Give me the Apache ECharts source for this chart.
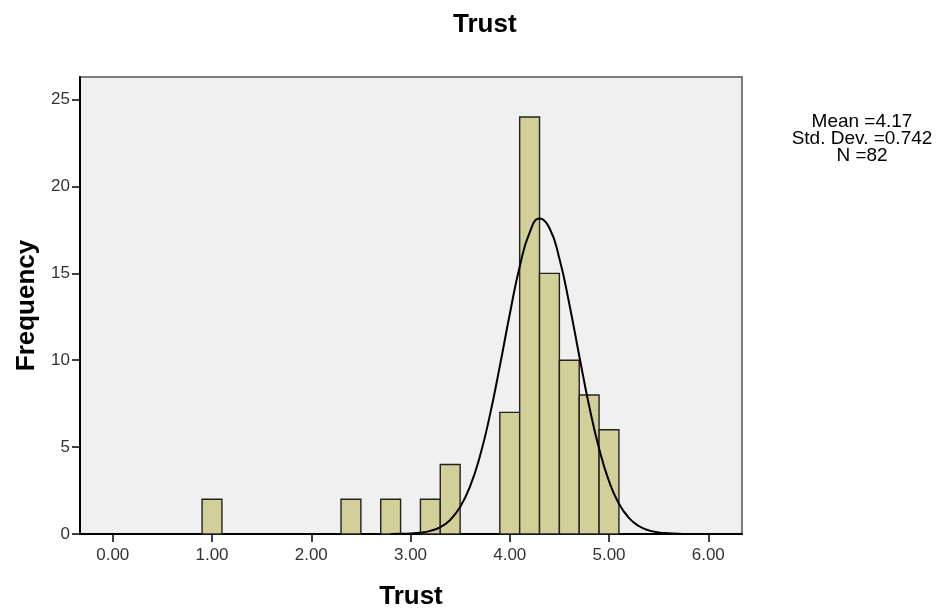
<!DOCTYPE html>
<html>
<head>
<meta charset="utf-8">
<script src="https://cdn.jsdelivr.net/npm/echarts@6/dist/echarts.min.js"></script>
<style>
  html, body { margin: 0; padding: 0; background: #fff; }
  #chart { width: 939px; height: 609px; }
</style>
</head>
<body>
<div id="chart"></div>
<script>
// histogram bins (left edge, width 0.2) and counts
const binLow = [0.9, 2.3, 2.7, 3.1, 3.3, 3.9, 4.1, 4.3, 4.5, 4.7, 4.9];
const binWidth = 0.2;
const counts = [2, 2, 2, 2, 4, 7, 24, 15, 10, 8, 6];

// normal curve
const curveX = [2.8, 2.9, 3.0, 3.1, 3.2, 3.3, 3.4, 3.5, 3.6, 3.7, 3.8, 3.9, 4.0, 4.1, 4.2, 4.3,
  4.4, 4.5, 4.6, 4.7, 4.8, 4.9, 5.0, 5.1, 5.2, 5.3, 5.4, 5.5, 5.6, 5.7, 5.8];
const curveY = [0.0, 0.01, 0.03, 0.07, 0.18, 0.40, 0.81, 1.55, 2.74, 4.49, 6.84, 9.66, 12.65, 15.38, 17.34, 18.15,
  17.61, 15.85, 13.24, 10.26, 7.37, 4.92, 3.04, 1.74, 0.93, 0.46, 0.21, 0.09, 0.04, 0.01, 0.0];

const xTicks = [0, 1, 2, 3, 4, 5, 6];
const yTicks = [0, 5, 10, 15, 20, 25];
const statsLines = ['Mean =4.17', 'Std. Dev. =0.742', 'N =82'];

const font = 'Liberation Sans, Arial, sans-serif';

let myChart = echarts.init(document.getElementById('chart'));

const barData = binLow.map((lo, i) => [lo, lo + binWidth, counts[i]]);
const lineData = curveX.map((x, i) => [x, curveY[i]]);

myChart.setOption({
  animation: false,
  title: {
    text: 'Trust',
    left: 448,
    top: 7,
    textStyle: { fontFamily: font, fontSize: 26, fontWeight: 'bold', color: '#000' }
  },
  grid: {
    left: 80,
    right: 197,
    top: 77,
    bottom: 75,
    outerBoundsMode: 'none',
    containLabel: false,
    show: true,
    backgroundColor: '#f0f0f0',
    borderColor: '#555',
    borderWidth: 1.5
  },
  xAxis: {
    type: 'value',
    min: -0.33,
    max: 6.34,
    name: 'Trust',
    nameLocation: 'middle',
    nameGap: 50,
    nameTextStyle: { fontFamily: font, fontSize: 26, fontWeight: 'bold', color: '#000' },
    axisLine: { show: true, onZero: false, lineStyle: { color: '#000', width: 2 } },
    axisTick: { show: true, length: 8, lineStyle: { color: '#000', width: 1.5 }, customValues: xTicks },
    axisLabel: {
      customValues: xTicks,
      fontFamily: font,
      fontSize: 17,
      color: '#333',
      margin: 13,
      formatter: (v) => v.toFixed(2)
    },
    splitLine: { show: false }
  },
  yAxis: {
    type: 'value',
    min: 0,
    max: 26.3,
    name: 'Frequency',
    nameLocation: 'middle',
    nameGap: 40,
    nameTextStyle: { fontFamily: font, fontSize: 26, fontWeight: 'bold', color: '#000' },
    axisLine: { show: true, onZero: false, lineStyle: { color: '#000', width: 2 } },
    axisTick: { show: true, length: 8, lineStyle: { color: '#000', width: 1.5 }, customValues: yTicks },
    axisLabel: {
      customValues: yTicks,
      fontFamily: font,
      fontSize: 17,
      color: '#333',
      margin: 10
    },
    splitLine: { show: false }
  },
  graphic: [{
    type: 'text',
    x: 862,
    y: 113,
    style: {
      text: statsLines.join('\n'),
      fontFamily: font,
      fontSize: 19,
      lineHeight: 17,
      fill: '#000',
      textAlign: 'center'
    }
  }],
  series: [
    {
      type: 'custom',
      data: barData,
      encode: { x: [0, 1], y: 2 },
      renderItem: (params, api) => {
        const p0 = api.coord([api.value(0), 0]);
        const p1 = api.coord([api.value(1), api.value(2)]);
        return {
          type: 'rect',
          shape: { x: p0[0], y: p1[1], width: p1[0] - p0[0], height: p0[1] - p1[1] },
          style: { fill: '#d3cf98', stroke: '#222', lineWidth: 1.4 }
        };
      }
    },
    {
      type: 'line',
      data: lineData,
      smooth: true,
      symbol: 'none',
      lineStyle: { color: '#000', width: 2 },
      z: 5
    }
  ]
});
</script>
</body>
</html>
